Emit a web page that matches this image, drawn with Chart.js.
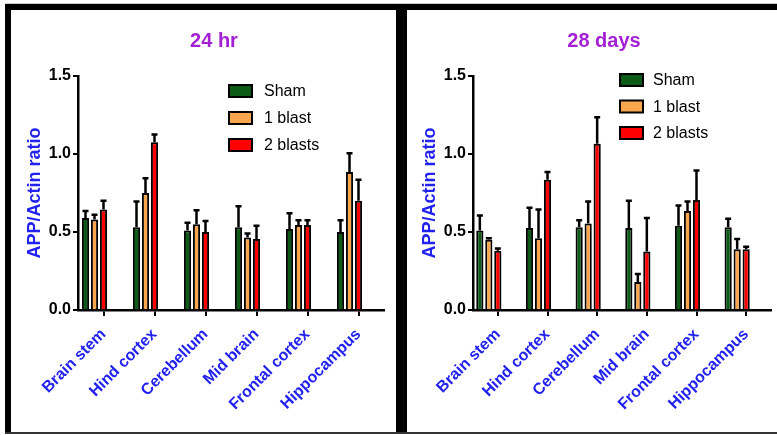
<!DOCTYPE html>
<html>
<head>
<meta charset="utf-8">
<script src="https://cdn.jsdelivr.net/npm/chart.js@4.4.0/dist/chart.umd.min.js"></script>
<style>
  body { margin: 0; background: #fff; width: 777px; height: 435px; overflow: hidden; position: relative; }
  .frame { position: absolute; background: #000; }
  .panel { position: absolute; top: 10px; height: 422px; }
</style>
</head>
<body>
<div class="frame" style="left:5px;top:3px;width:772px;height:1px;background:#ccc"></div>
<div class="frame" style="left:5px;top:4px;width:772px;height:6px"></div>
<div class="frame" style="left:5px;top:4px;width:6px;height:429px"></div>
<div class="frame" style="left:396px;top:4px;width:11px;height:429px"></div>
<div class="frame" style="left:5px;top:432px;width:772px;height:2px;background:#333"></div>
<div class="panel" style="left:11px;width:385px"><canvas id="c1" width="385" height="422"></canvas></div>
<div class="panel" style="left:407px;width:370px"><canvas id="c2" width="370" height="422"></canvas></div>
<script>
// brain regions
const regions = ['Brain stem', 'Hind cortex', 'Cerebellum', 'Mid brain', 'Frontal cortex', 'Hippocampus'];
const groups = ['Sham', '1 blast', '2 blasts'];
const yTicks = [0, 0.5, 1.0, 1.5];

// 24 hr
const sham24 = [0.59, 0.53, 0.51, 0.53, 0.52, 0.50];
const sham24Err = [0.045, 0.165, 0.05, 0.135, 0.10, 0.075];
const one24 = [0.58, 0.75, 0.55, 0.465, 0.545, 0.885];
const one24Err = [0.03, 0.095, 0.09, 0.025, 0.03, 0.12];
const two24 = [0.645, 1.075, 0.50, 0.455, 0.545, 0.70];
const two24Err = [0.055, 0.05, 0.07, 0.085, 0.03, 0.135];

// 28 days
const sham28 = [0.51, 0.525, 0.53, 0.525, 0.54, 0.53];
const sham28Err = [0.095, 0.13, 0.045, 0.175, 0.13, 0.055];
const one28 = [0.45, 0.46, 0.555, 0.18, 0.635, 0.39];
const one28Err = [0.01, 0.185, 0.14, 0.05, 0.06, 0.065];
const two28 = [0.38, 0.835, 1.065, 0.375, 0.705, 0.39];
const two28Err = [0.015, 0.05, 0.17, 0.215, 0.19, 0.015];

const colors = ['#0b5a16', '#f9a64e', '#ff0000'];
const blue = '#2222f0';
const purple = '#a51fd4';

Chart.defaults.font.family = '"Liberation Sans", Arial, sans-serif';
Chart.defaults.color = '#000';

// title, legend and error bars
const decor = {
  id: 'decor',
  afterDatasetsDraw(chart, args, opts) {
    const ctx = chart.ctx;
    const y = chart.scales.y;
    ctx.save();
    ctx.strokeStyle = '#000';
    ctx.lineWidth = 2.5;
    chart.data.datasets.forEach((ds, i) => {
      if (!ds.errors) return;
      chart.getDatasetMeta(i).data.forEach((bar, j) => {
        const top = y.getPixelForValue(ds.data[j] + ds.errors[j]);
        ctx.beginPath();
        ctx.moveTo(bar.x, bar.y);
        ctx.lineTo(bar.x, top);
        ctx.moveTo(bar.x - 3, top);
        ctx.lineTo(bar.x + 3, top);
        ctx.stroke();
      });
    });

    ctx.fillStyle = purple;
    ctx.font = 'bold 20px "Liberation Sans", Arial, sans-serif';
    ctx.textAlign = 'center';
    ctx.textBaseline = 'middle';
    ctx.fillText(opts.title, opts.titleX, opts.titleY);

    ctx.font = '16px "Liberation Sans", Arial, sans-serif';
    ctx.textAlign = 'left';
    ctx.lineWidth = 2;
    chart.data.datasets.filter(ds => ds.label).forEach((ds, i) => {
      const cy = opts.legendY + i * opts.rowGap;
      ctx.fillStyle = ds.backgroundColor;
      ctx.fillRect(opts.legendX, cy - 6, 23, 12);
      ctx.strokeRect(opts.legendX, cy - 6, 23, 12);
      ctx.fillStyle = '#000';
      ctx.fillText(ds.label, opts.legendX + opts.textGap, cy + 1);
    });
    ctx.restore();
  }
};

function makeChart(id, values, errs, o) {
  const datasets = values.map((v, i) => ({
    label: groups[i],
    data: v,
    errors: errs[i],
    backgroundColor: colors[i],
    borderColor: '#000',
    borderWidth: 2,
    categoryPercentage: o.catPct,
    barPercentage: 0.8
  }));
  // two empty slots so the tick sits under the third bar
  datasets.push({ label: '', data: regions.map(() => null), categoryPercentage: o.catPct, barPercentage: 0.8 });
  datasets.push({ label: '', data: regions.map(() => null), categoryPercentage: o.catPct, barPercentage: 0.8 });

  return new Chart(document.getElementById(id), {
    type: 'bar',
    data: { labels: regions, datasets: datasets },
    options: {
      responsive: false,
      animation: false,
      devicePixelRatio: 1,
      layout: { padding: { top: 66, right: o.padRight, left: 0, bottom: 0 } },
      plugins: {
        legend: { display: false },
        tooltip: { enabled: false },
        decor: o.decor
      },
      scales: {
        x: {
          afterFit: s => { s.height = 122; },
          grid: { display: true, drawOnChartArea: false, offset: false, color: '#000', lineWidth: 2, tickLength: 6 },
          border: { color: '#000', width: 2.5 },
          ticks: {
            autoSkip: false, maxRotation: 45, minRotation: 45, padding: 9,
            color: blue, font: { size: 16, weight: 'bold' }
          }
        },
        y: {
          min: 0, max: 1.5,
          afterFit: s => { s.width = o.yWidth; },
          afterBuildTicks: s => { s.ticks = yTicks.map(v => ({ value: v })); },
          grid: { drawOnChartArea: false, color: '#000', lineWidth: 2, tickLength: 5 },
          border: { color: '#000', width: 2.5 },
          ticks: {
            padding: 2, color: '#000', font: { size: 16, weight: 'bold' },
            callback: v => v.toFixed(1)
          },
          title: {
            display: true, text: 'APP/Actin ratio', color: blue,
            font: { size: 18, weight: 'bold' }, padding: { top: o.titlePad, bottom: 0 }
          }
        }
      }
    },
    plugins: [decor]
  });
}

makeChart('c1', [sham24, one24, two24], [sham24Err, one24Err, two24Err], {
  catPct: 0.882, padRight: 12, yWidth: 67, titlePad: 13,
  decor: { title: '24 hr', titleX: 203, titleY: 31, legendX: 218, legendY: 81, rowGap: 27, textGap: 35 }
});
makeChart('c2', [sham28, one28, two28], [sham28Err, one28Err, two28Err], {
  catPct: 0.906, padRight: 6, yWidth: 66, titlePad: 12,
  decor: { title: '28 days', titleX: 197, titleY: 31, legendX: 213, legendY: 70, rowGap: 26.5, textGap: 33 }
});
</script>
</body>
</html>
